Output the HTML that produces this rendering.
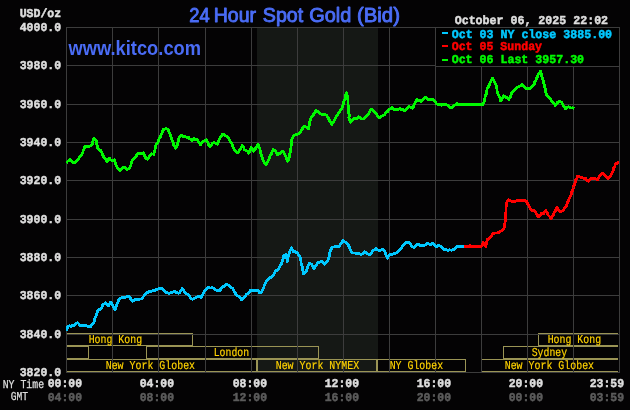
<!DOCTYPE html>
<html><head><meta charset="utf-8"><title>24 Hour Spot Gold (Bid)</title>
<style>html,body{margin:0;padding:0;background:#040304;}svg{display:block;will-change:transform;}.m{font-family:"Liberation Mono",monospace;font-weight:bold;font-size:12.1px;text-rendering:geometricPrecision;}.s{font-family:"Liberation Mono",monospace;font-size:12.1px;text-rendering:geometricPrecision;}.t{font-family:"Liberation Sans",sans-serif;font-weight:bold;}</style></head><body>
<svg width="630" height="410" viewBox="0 0 630 410">
<rect x="0" y="0" width="630" height="410" fill="#040304"/>
<rect x="257" y="27" width="121" height="345" fill="#151815"/>
<g stroke="#9a9455" stroke-width="1" shape-rendering="crispEdges" fill="none">
<path d="M67,333.5 H192.5 V345.5 H67"/>
<path d="M618,333.5 H538.5 V345.5 H618"/>
<path d="M67,346.5 H88.5 V358.5 H67"/>
<rect x="146.5" y="346.5" width="172" height="12"/>
<path d="M618,346.5 H503.5 V358.5 H618"/>
<path d="M67,359.5 H256.5 V371.5 H67"/>
<rect x="257.5" y="359.5" width="119" height="12"/>
<rect x="377.5" y="359.5" width="88" height="12"/>
<path d="M618,359.5 H481.5 V371.5 H618"/>
</g>
<g stroke="#3c3c3c" stroke-width="1" shape-rendering="crispEdges">
<line x1="66.5" y1="27" x2="66.5" y2="373"/>
<line x1="112.5" y1="27" x2="112.5" y2="373"/>
<line x1="158.5" y1="27" x2="158.5" y2="373"/>
<line x1="205.5" y1="27" x2="205.5" y2="373"/>
<line x1="251.5" y1="27" x2="251.5" y2="373"/>
<line x1="297.5" y1="27" x2="297.5" y2="373"/>
<line x1="343.5" y1="27" x2="343.5" y2="373"/>
<line x1="389.5" y1="27" x2="389.5" y2="373"/>
<line x1="435.5" y1="27" x2="435.5" y2="373"/>
<line x1="481.5" y1="27" x2="481.5" y2="373"/>
<line x1="527.5" y1="27" x2="527.5" y2="373"/>
<line x1="573.5" y1="27" x2="573.5" y2="373"/>
<line x1="619.5" y1="27" x2="619.5" y2="373"/>
<line x1="66" y1="27.5" x2="620" y2="27.5"/>
<line x1="66" y1="65.5" x2="620" y2="65.5"/>
<line x1="66" y1="104.5" x2="620" y2="104.5"/>
<line x1="66" y1="142.5" x2="620" y2="142.5"/>
<line x1="66" y1="180.5" x2="620" y2="180.5"/>
<line x1="66" y1="219.5" x2="620" y2="219.5"/>
<line x1="66" y1="257.5" x2="620" y2="257.5"/>
<line x1="66" y1="295.5" x2="620" y2="295.5"/>
<line x1="66" y1="334.5" x2="620" y2="334.5"/>
<line x1="66" y1="372.5" x2="620" y2="372.5"/>
</g>
<rect x="435.5" y="27.5" width="184" height="39" fill="#000000" stroke="#3c3c3c" stroke-width="1" shape-rendering="crispEdges"/>
<clipPath id="pc"><rect x="66" y="27" width="554" height="346"/></clipPath>
<g clip-path="url(#pc)">
<polyline points="66.7,330.6 67.2,328.6 67.9,326.6 69.5,325.9 71.1,326.2 72.7,325.3 74.3,325.5 75.4,324.6 76.4,323.4 77.5,322.6 78.7,323.7 79.8,325.8 81.8,325.7 83.8,325.5 85.4,325.4 87.0,326.2 88.6,326.2 90.2,327.1 91.2,325.3 92.2,324.4 93.1,323.5 94.1,321.8 94.3,320.2 94.9,318.6 95.6,317.1 96.3,315.5 96.5,313.9 97.4,312.0 98.1,310.2 99.5,309.5 101.0,309.1 102.0,307.5 102.2,306.0 103.2,304.4 104.5,304.0 105.7,302.8 107.1,304.2 108.4,306.0 109.0,304.7 109.7,303.3 110.8,302.0 111.5,303.6 112.6,305.1 113.2,306.7 114.2,307.8 115.1,309.6 115.7,308.1 116.2,306.6 116.5,305.1 117.1,303.6 118.1,301.9 118.7,300.2 120.0,298.5 121.4,297.6 122.9,297.3 124.3,297.2 125.9,297.1 127.4,296.6 129.0,296.4 130.1,297.8 131.1,299.7 132.2,301.2 133.8,300.4 135.4,299.6 137.0,299.1 138.6,299.3 140.1,299.1 141.7,298.8 142.7,297.3 143.6,296.4 144.6,295.0 145.5,294.2 146.5,292.5 148.1,292.3 149.7,291.3 151.3,291.6 152.9,290.6 155.0,290.5 156.6,289.3 158.2,288.9 160.1,288.7 162.1,288.6 163.4,290.2 164.8,290.8 166.1,292.5 167.7,292.9 169.3,293.3 171.1,292.2 173.0,292.2 174.8,291.4 176.1,292.3 177.5,292.7 178.8,293.3 180.0,292.1 181.1,290.0 182.3,288.6 183.3,290.1 184.2,291.3 185.2,292.5 186.5,293.7 187.8,294.6 189.1,295.7 190.3,297.3 191.4,298.7 192.6,299.4 194.1,298.5 195.6,297.8 197.1,296.8 199.1,296.6 201.0,297.3 201.9,295.9 202.7,294.5 203.7,293.1 204.2,291.7 205.3,290.8 206.3,288.9 207.4,287.8 209.0,287.7 210.5,288.0 212.1,287.8 213.4,288.1 214.8,289.4 216.1,290.2 217.9,290.2 219.8,291.0 220.7,289.1 221.6,287.6 222.5,286.7 224.1,286.3 225.6,284.9 227.2,284.6 228.6,285.2 230.0,286.3 231.4,287.8 232.8,288.3 233.3,289.9 234.4,291.5 235.2,293.0 236.0,294.6 237.6,295.8 239.1,296.2 240.1,297.8 241.0,299.1 242.0,300.0 243.2,298.3 244.3,297.0 245.5,295.7 246.7,294.2 247.8,293.5 249.0,292.3 250.2,290.5 251.7,290.3 253.3,290.5 254.8,291.0 257.1,289.9 258.3,291.0 259.5,292.6 261.9,292.0 262.4,290.3 263.2,288.6 263.9,287.0 264.3,285.3 265.1,283.6 266.1,281.7 267.1,280.9 268.0,279.5 269.0,278.3 270.3,277.5 271.7,277.1 273.0,275.7 273.9,274.1 274.6,272.5 275.4,270.9 277.8,270.1 278.7,268.7 279.5,267.3 279.9,265.9 281.0,264.5 281.8,262.8 282.3,261.0 282.9,259.3 283.4,257.5 283.7,255.8 284.9,254.9 286.2,254.2 286.4,256.0 286.5,257.8 287.1,259.6 287.3,261.4 287.4,259.6 287.8,257.8 288.3,256.0 288.9,254.2 289.4,252.6 290.1,251.1 290.6,249.5 291.6,247.9 292.0,249.2 292.8,250.5 293.7,251.8 295.2,251.8 296.8,252.6 297.9,253.9 298.9,255.1 300.0,257.1 300.7,258.9 300.9,260.7 301.0,262.5 301.5,264.3 302.1,266.1 302.3,267.7 302.7,269.3 302.8,270.9 303.6,272.5 303.7,274.1 305.0,273.0 306.3,270.9 306.9,269.3 307.6,267.7 307.9,266.2 308.6,264.6 309.5,263.0 310.6,263.6 311.6,264.5 312.5,265.7 313.4,267.7 314.3,268.8 314.9,267.4 315.6,265.9 317.0,264.4 317.5,263.0 319.4,262.2 321.4,261.4 323.0,262.4 324.6,264.1 325.8,262.9 326.9,261.0 328.1,260.3 328.5,258.8 329.1,257.2 329.4,255.7 329.6,254.1 329.7,252.6 330.2,251.0 330.9,249.7 331.5,248.4 332.5,247.1 334.5,246.8 336.5,246.0 337.7,246.6 338.9,247.1 339.9,245.7 340.4,244.4 341.1,243.0 342.3,241.7 342.9,240.3 344.2,241.7 345.6,242.4 346.9,242.8 347.8,244.2 348.6,245.6 349.2,246.9 349.8,248.3 350.4,249.8 351.3,251.3 352.1,252.8 353.7,253.0 355.3,253.0 356.9,253.9 358.5,253.5 360.1,254.0 361.7,254.4 363.2,252.8 364.8,251.8 366.4,253.0 368.0,254.2 369.6,254.7 370.7,253.3 371.7,252.5 372.8,250.7 374.4,249.9 376.0,248.0 377.6,249.9 379.1,250.7 381.1,250.0 383.1,249.6 384.3,251.0 385.5,253.1 386.0,254.8 386.6,256.5 387.5,258.2 388.4,256.6 389.3,255.8 390.2,254.4 391.8,254.6 393.4,253.9 394.7,253.7 396.1,252.8 397.4,252.3 398.7,251.0 400.0,249.8 401.3,248.0 402.3,246.2 403.3,245.6 404.3,244.6 405.3,242.8 407.3,242.9 409.3,242.3 410.5,244.2 411.3,246.0 412.6,246.7 414.0,247.5 415.1,246.1 416.1,245.8 417.2,244.4 418.8,244.6 420.4,245.5 422.0,245.5 424.4,245.2 425.9,244.8 427.5,243.3 429.1,243.9 430.7,244.8 432.6,243.3 434.1,244.7 435.5,246.4 437.1,246.3 438.7,245.2 440.0,245.9 441.3,247.3 442.7,247.9 444.0,249.5 445.9,249.6 447.9,250.6 449.8,249.8 451.6,250.3 453.5,249.5 454.8,248.8 456.2,247.0 457.5,246.3 459.1,246.7 460.6,246.8 462.2,246.5 463.8,246.3" fill="none" stroke="#00c8ff" stroke-width="2.8" stroke-linejoin="round" stroke-linecap="butt" shape-rendering="crispEdges"/>
<polyline points="463.8,246.3 465.6,246.1 467.4,246.4 469.1,245.9 470.9,245.8 472.7,246.8 474.5,246.5 476.3,246.3 478.0,246.8 479.8,246.2 481.6,246.3 482.6,244.4 483.2,242.4 484.1,244.1 485.1,244.7 486.0,246.3 486.2,244.5 486.7,242.8 487.0,241.0 487.6,239.2 488.8,238.5 490.0,237.6 491.1,236.0 492.1,234.9 493.2,233.7 495.1,232.9 497.1,232.9 498.4,232.7 499.8,231.5 501.1,231.0 502.6,229.5 504.0,228.1 504.3,226.5 504.8,224.9 504.8,223.3 505.1,221.7 505.5,220.1 505.4,218.5 505.5,216.9 505.6,215.4 505.4,213.8 505.9,212.2 506.0,210.6 506.0,209.0 506.0,207.4 506.6,205.9 506.4,204.3 506.7,202.7 507.6,201.2 508.6,199.8 510.3,200.7 512.1,201.3 513.8,201.9 515.4,201.2 517.0,200.8 518.6,200.7 520.1,200.6 521.7,200.7 523.3,200.3 524.9,200.4 526.5,201.4 527.3,202.9 527.9,204.4 528.9,205.9 529.6,207.4 530.7,208.8 531.3,210.3 533.0,210.6 534.8,210.9 535.8,212.5 536.8,214.2 537.7,215.9 538.7,216.9 539.8,215.5 540.8,214.4 541.9,212.9 543.5,213.7 544.7,212.2 545.9,210.6 546.7,212.2 547.6,213.7 548.3,215.3 549.3,216.3 550.4,217.5 551.4,218.5 552.2,216.9 553.3,215.3 553.8,213.7 554.7,212.0 555.6,210.4 556.5,208.8 557.0,207.1 557.6,208.5 558.6,209.9 559.4,211.3 561.0,211.4 562.5,210.6 563.7,209.6 565.0,207.5 566.2,206.6 566.5,205.2 567.3,203.7 567.7,202.2 568.4,200.8 568.8,199.3 569.7,197.9 570.4,196.5 571.0,195.0 571.6,193.6 571.7,192.1 572.5,190.7 573.1,189.1 573.5,187.5 573.6,185.9 574.6,184.4 575.1,182.8 575.2,181.2 575.7,179.6 576.9,178.0 577.3,176.4 579.0,176.8 580.8,177.5 582.4,177.8 584.0,178.7 585.6,178.5 587.0,180.2 588.4,181.2 589.6,179.8 590.7,179.0 591.9,178.0 593.8,178.6 595.6,178.9 597.5,179.6 598.5,177.8 599.5,176.5 600.4,175.4 601.4,173.7 602.8,173.7 604.3,174.8 605.5,176.2 606.6,177.4 607.8,178.8 608.9,177.1 609.9,176.3 611.0,175.3 611.8,173.6 612.5,171.8 613.3,170.1 613.5,168.5 614.7,166.9 615.1,165.3 615.4,163.7 616.8,163.4 618.1,162.1 618.9,162.1" fill="none" stroke="#ff0000" stroke-width="2.8" stroke-linejoin="round" stroke-linecap="butt" shape-rendering="crispEdges"/>
<polyline points="66.3,163.1 67.5,161.5 68.7,160.4 69.9,159.5 71.3,160.3 72.7,162.2 74.1,162.7 75.5,162.5 76.7,160.8 77.8,159.3 79.0,158.3 80.0,156.7 81.0,155.8 81.9,154.2 82.9,152.3 83.2,150.9 83.6,149.4 84.6,148.0 84.8,146.6 86.3,146.8 87.9,146.8 89.5,146.3 91.1,145.3 92.4,144.0 92.7,142.1 93.2,140.2 94.0,138.3 95.1,139.8 96.2,140.9 96.5,142.4 96.5,143.9 97.4,145.5 97.5,147.0 97.7,148.5 99.2,149.8 100.6,150.4 101.0,151.8 102.1,153.2 102.2,154.6 103.4,156.0 103.8,157.4 104.9,158.6 105.9,159.8 107.0,161.2 108.2,159.8 109.5,158.3 110.8,159.9 112.1,160.6 114.3,159.9 114.7,161.4 115.2,162.9 116.0,164.5 116.4,166.0 117.1,167.5 118.4,168.6 119.7,170.5 121.2,169.1 122.6,167.9 124.1,167.3 125.7,168.0 127.3,169.4 128.6,168.6 129.8,168.2 130.2,166.5 131.0,164.9 131.2,163.2 131.9,161.6 132.4,159.9 133.7,158.3 134.9,157.2 136.2,156.1 135.0,157.5 136.1,155.7 137.1,154.7 138.2,153.7 139.9,152.9 141.6,153.4 143.3,152.8 144.0,154.2 144.3,155.5 145.2,156.8 145.8,158.2 147.7,159.2 148.6,158.3 149.6,156.0 150.6,155.4 151.5,153.7 153.8,154.4 154.1,152.8 154.5,151.2 155.1,149.6 155.2,148.0 155.6,146.4 156.0,144.8 157.0,143.3 158.0,141.9 158.5,140.4 159.2,138.7 160.4,137.0 161.0,135.3 161.8,133.8 162.4,132.2 162.9,130.7 163.6,129.2 165.1,129.0 166.5,128.7 168.0,129.2 168.4,130.8 169.0,132.4 170.1,134.0 170.4,135.6 171.2,137.2 171.5,138.7 171.9,140.2 172.9,141.8 173.4,143.3 173.7,144.8 174.8,146.6 175.6,148.3 176.4,146.6 177.5,144.8 177.7,143.3 178.1,141.8 178.6,140.2 178.8,138.7 179.4,137.2 180.4,136.1 181.3,135.1 183.3,136.6 185.0,136.5 186.6,137.5 188.3,137.2 189.6,138.8 190.8,139.4 192.1,140.4 193.1,139.2 194.0,138.5 195.6,139.7 197.2,139.8 198.3,141.3 199.3,143.0 200.4,144.8 201.7,142.7 202.9,141.7 204.8,140.6 206.7,139.8 207.3,141.4 208.0,142.9 208.5,144.5 209.3,146.1 211.2,145.2 210.0,146.7 211.3,145.3 212.5,143.4 213.8,142.6 215.7,143.1 217.6,144.1 218.0,142.5 218.8,140.9 219.2,139.4 220.2,137.8 221.0,136.1 221.9,135.2 222.7,134.2 224.4,134.9 226.1,136.2 227.8,137.1 228.6,138.4 229.4,139.9 230.2,141.1 231.0,142.2 231.8,143.6 232.5,145.0 232.8,146.4 233.4,147.8 234.1,149.2 235.2,150.9 236.2,151.2 237.3,152.8 238.6,151.5 239.8,149.8 240.8,148.3 241.2,146.9 242.4,145.4 243.3,146.8 243.9,148.1 244.3,149.5 245.9,150.4 247.5,151.1 248.7,153.3 249.5,151.8 250.2,150.3 250.4,148.8 251.3,147.3 252.1,148.6 253.0,149.8 253.8,151.1 254.9,149.7 255.7,148.2 256.5,146.8 257.2,145.3 258.0,143.9 258.8,145.6 259.2,147.2 259.8,148.8 260.2,150.5 260.5,152.2 260.9,153.9 261.5,155.6 262.2,157.2 262.5,158.9 263.3,160.6 264.2,162.3 265.0,163.4 265.9,164.7 266.7,163.3 267.5,161.8 268.3,160.4 268.9,158.9 269.7,157.5 270.1,155.9 271.3,154.3 271.9,152.7 272.4,151.1 273.1,149.5 274.2,150.3 275.4,151.1 276.5,153.0 277.3,154.9 278.6,153.5 279.9,153.3 281.1,151.8 282.4,151.1 283.6,152.2 284.9,154.3 285.4,156.1 286.5,157.8 286.8,159.6 287.7,161.3 288.4,159.8 289.1,158.3 289.4,156.8 289.7,155.1 289.9,153.4 290.3,151.8 290.6,150.1 290.9,148.4 291.1,146.7 291.2,144.9 291.4,143.2 291.2,141.5 291.7,139.8 292.4,138.2 293.4,136.6 294.5,135.0 296.9,134.5 298.5,133.7 300.1,132.3 301.1,130.6 302.1,129.4 303.0,127.3 304.0,126.3 305.5,126.6 307.0,127.6 308.5,128.7 308.9,127.1 309.3,125.5 309.6,123.9 309.6,122.3 310.1,120.7 310.4,119.1 311.5,117.5 312.5,115.9 313.6,114.4 314.1,113.1 315.5,111.7 316.0,110.4 317.6,111.3 319.1,112.8 320.7,114.1 322.3,114.4 323.7,115.1 325.2,114.4 326.6,115.2 327.3,116.6 328.2,118.0 329.0,119.3 329.4,120.7 330.2,122.0 331.0,123.1 331.8,124.7 332.4,123.3 333.7,121.9 334.0,120.5 335.0,119.1 335.9,117.7 336.4,116.3 337.4,115.0 338.2,113.6 339.2,112.8 340.3,110.5 341.3,109.6 342.0,108.0 342.4,106.4 343.2,104.8 343.6,103.3 343.8,101.7 344.5,100.1 345.3,98.3 345.5,96.5 345.8,94.7 346.6,92.9 346.8,94.9 347.7,96.9 347.8,98.6 347.9,100.3 347.9,102.0 347.9,103.7 348.2,105.4 348.3,107.1 348.5,108.8 348.9,110.5 348.4,112.2 349.1,113.9 349.3,115.7 348.9,117.4 349.3,119.1 350.1,120.7 350.4,122.3 351.4,121.3 352.3,120.3 353.3,118.7 354.9,118.7 356.4,119.1 357.6,117.8 358.8,116.7 360.0,117.6 361.2,118.7 362.8,119.0 364.4,118.3 365.4,117.4 366.5,116.1 367.5,115.2 368.5,113.6 369.5,111.9 370.5,110.1 371.5,109.1 372.8,109.9 374.2,111.9 375.5,112.8 376.5,113.9 377.4,115.9 378.4,116.4 379.4,118.0 380.0,117.6 381.6,116.3 383.2,115.5 384.8,114.4 385.8,112.9 386.8,111.9 387.7,111.4 388.7,109.7 390.3,108.9 391.9,107.3 393.2,109.0 394.6,110.0 396.3,109.6 398.1,109.4 399.8,108.4 401.2,109.4 402.6,109.5 404.0,110.2 405.4,110.5 406.6,108.7 407.8,108.1 409.0,106.5 410.8,107.2 412.5,108.1 413.5,106.5 414.2,104.9 414.9,103.3 415.7,101.8 416.5,100.2 417.3,99.4 418.5,100.6 419.8,100.5 421.0,101.7 422.2,100.6 423.4,99.3 424.5,98.2 425.7,97.3 426.9,98.4 428.0,99.5 429.2,99.8 431.2,99.3 433.2,99.4 434.2,101.0 435.3,102.0 436.3,103.7 437.9,104.3 439.5,104.6 441.1,105.2 443.1,104.3 445.1,104.1 446.6,104.7 448.1,105.8 449.5,107.5 451.0,108.1 452.4,107.1 453.8,106.2 454.9,104.9 455.9,104.7 457.0,103.3 458.2,104.4 459.4,104.4 461.1,104.4 462.8,104.0 464.4,104.1 466.1,104.0 467.8,104.3 469.5,104.0 471.1,104.2 472.8,104.2 474.5,104.5 476.2,104.9 477.9,104.8 479.5,104.4 481.2,104.4 482.9,104.5 483.5,103.1 484.0,101.6 484.6,100.2 484.9,98.6 485.1,96.9 485.6,95.3 486.4,93.7 486.2,92.1 486.8,90.4 487.2,88.8 488.2,87.1 489.2,85.3 489.8,83.6 490.5,81.8 491.4,80.1 492.5,78.3 493.2,79.8 494.2,81.2 495.1,82.7 495.5,84.3 496.3,85.9 496.6,87.5 497.1,89.1 497.0,90.7 497.7,92.3 498.0,94.0 499.1,95.8 499.8,97.5 500.2,99.3 500.8,101.0 501.6,99.7 502.0,98.4 503.0,97.1 503.8,95.8 505.6,97.1 507.3,97.5 509.0,99.3 509.9,97.8 510.6,96.2 511.3,94.7 511.7,93.2 513.0,91.6 514.3,90.1 515.6,88.8 516.9,87.9 518.1,87.0 519.3,86.4 520.6,85.8 521.8,84.4 522.8,85.7 523.8,86.7 524.8,87.6 526.2,88.3 527.7,88.4 529.1,88.8 530.6,87.7 532.0,86.0 533.5,85.3 534.4,83.7 534.7,82.2 535.9,80.6 536.4,79.1 537.0,77.5 537.7,75.9 538.5,74.3 539.5,72.8 540.5,71.2 541.1,73.0 541.7,74.8 541.8,76.5 542.3,78.3 543.1,80.1 543.5,81.7 543.9,83.4 544.2,85.0 544.5,86.7 545.1,88.3 545.1,90.0 545.7,91.6 546.2,93.3 546.6,94.9 547.8,96.6 548.9,97.4 550.1,98.4 551.1,100.3 552.2,101.3 553.2,102.5 554.3,104.0 555.3,105.7 556.2,104.9 557.0,103.4 557.9,101.9 559.2,101.5 560.6,101.6 561.6,102.5 562.7,104.5 563.7,106.2 564.8,107.4 565.8,108.9 567.1,107.6 568.4,106.8 569.9,107.4 571.5,108.1 573.0,107.8 574.5,108.5" fill="none" stroke="#00f800" stroke-width="2.8" stroke-linejoin="round" stroke-linecap="butt" shape-rendering="crispEdges"/>
<rect x="459" y="103" width="24" height="3" fill="#00f800"/>
<rect x="464" y="245" width="18" height="3" fill="#ff0000"/><rect x="457" y="245" width="7" height="3" fill="#00c8ff"/>
</g>
<text class="m" x="19.7" y="31" textLength="41.4" lengthAdjust="spacingAndGlyphs" fill="#dedede" stroke="#dedede" stroke-width="0.5">4000.0</text>
<text class="m" x="19.7" y="69" textLength="41.4" lengthAdjust="spacingAndGlyphs" fill="#dedede" stroke="#dedede" stroke-width="0.5">3980.0</text>
<text class="m" x="19.7" y="108" textLength="41.4" lengthAdjust="spacingAndGlyphs" fill="#dedede" stroke="#dedede" stroke-width="0.5">3960.0</text>
<text class="m" x="19.7" y="146" textLength="41.4" lengthAdjust="spacingAndGlyphs" fill="#dedede" stroke="#dedede" stroke-width="0.5">3940.0</text>
<text class="m" x="19.7" y="184" textLength="41.4" lengthAdjust="spacingAndGlyphs" fill="#dedede" stroke="#dedede" stroke-width="0.5">3920.0</text>
<text class="m" x="19.7" y="223" textLength="41.4" lengthAdjust="spacingAndGlyphs" fill="#dedede" stroke="#dedede" stroke-width="0.5">3900.0</text>
<text class="m" x="19.7" y="261" textLength="41.4" lengthAdjust="spacingAndGlyphs" fill="#dedede" stroke="#dedede" stroke-width="0.5">3880.0</text>
<text class="m" x="19.7" y="299" textLength="41.4" lengthAdjust="spacingAndGlyphs" fill="#dedede" stroke="#dedede" stroke-width="0.5">3860.0</text>
<text class="m" x="19.7" y="338" textLength="41.4" lengthAdjust="spacingAndGlyphs" fill="#dedede" stroke="#dedede" stroke-width="0.5">3840.0</text>
<text class="m" x="19.7" y="376" textLength="41.4" lengthAdjust="spacingAndGlyphs" fill="#dedede" stroke="#dedede" stroke-width="0.5">3820.0</text>
<text class="m" x="19.7" y="17" textLength="41.4" lengthAdjust="spacingAndGlyphs" fill="#dedede" stroke="#dedede" stroke-width="0.5">USD/oz</text>
<text class="m" x="47.7" y="387" textLength="34.4" lengthAdjust="spacingAndGlyphs" fill="#dedede" stroke="#dedede" stroke-width="0.5">00:00</text>
<text class="m" x="47.7" y="401" textLength="34.4" lengthAdjust="spacingAndGlyphs" fill="#5c5c5c" stroke="#5c5c5c" stroke-width="0.5">04:00</text>
<text class="m" x="139.7" y="387" textLength="34.4" lengthAdjust="spacingAndGlyphs" fill="#dedede" stroke="#dedede" stroke-width="0.5">04:00</text>
<text class="m" x="139.7" y="401" textLength="34.4" lengthAdjust="spacingAndGlyphs" fill="#5c5c5c" stroke="#5c5c5c" stroke-width="0.5">08:00</text>
<text class="m" x="232.7" y="387" textLength="34.4" lengthAdjust="spacingAndGlyphs" fill="#dedede" stroke="#dedede" stroke-width="0.5">08:00</text>
<text class="m" x="232.7" y="401" textLength="34.4" lengthAdjust="spacingAndGlyphs" fill="#5c5c5c" stroke="#5c5c5c" stroke-width="0.5">12:00</text>
<text class="m" x="324.7" y="387" textLength="34.4" lengthAdjust="spacingAndGlyphs" fill="#dedede" stroke="#dedede" stroke-width="0.5">12:00</text>
<text class="m" x="324.7" y="401" textLength="34.4" lengthAdjust="spacingAndGlyphs" fill="#5c5c5c" stroke="#5c5c5c" stroke-width="0.5">16:00</text>
<text class="m" x="416.7" y="387" textLength="34.4" lengthAdjust="spacingAndGlyphs" fill="#dedede" stroke="#dedede" stroke-width="0.5">16:00</text>
<text class="m" x="416.7" y="401" textLength="34.4" lengthAdjust="spacingAndGlyphs" fill="#5c5c5c" stroke="#5c5c5c" stroke-width="0.5">20:00</text>
<text class="m" x="508.7" y="387" textLength="34.4" lengthAdjust="spacingAndGlyphs" fill="#dedede" stroke="#dedede" stroke-width="0.5">20:00</text>
<text class="m" x="508.7" y="401" textLength="34.4" lengthAdjust="spacingAndGlyphs" fill="#5c5c5c" stroke="#5c5c5c" stroke-width="0.5">00:00</text>
<text class="m" x="589.7" y="387" textLength="34.4" lengthAdjust="spacingAndGlyphs" fill="#dedede" stroke="#dedede" stroke-width="0.5">23:59</text>
<text class="m" x="589.7" y="401" textLength="34.4" lengthAdjust="spacingAndGlyphs" fill="#5c5c5c" stroke="#5c5c5c" stroke-width="0.5">03:59</text>
<text class="s" x="2.7" y="388" textLength="41.4" lengthAdjust="spacingAndGlyphs" fill="#dedede" stroke="#dedede" stroke-width="0.3">NY Time</text>
<text class="s" x="10.7" y="400" textLength="17.4" lengthAdjust="spacingAndGlyphs" fill="#dedede" stroke="#dedede" stroke-width="0.3">GMT</text>
<text class="m" x="454.7" y="24" textLength="153.4" lengthAdjust="spacingAndGlyphs" fill="#dedede" stroke="#dedede" stroke-width="0.5">October 06, 2025 22:02</text>
<text class="m" x="451.7" y="38" textLength="160.4" lengthAdjust="spacingAndGlyphs" fill="#00c8ff" stroke="#00c8ff" stroke-width="0.5">Oct 03 NY close 3885.00</text>
<text class="m" x="451.7" y="50" textLength="90.4" lengthAdjust="spacingAndGlyphs" fill="#ff0000" stroke="#ff0000" stroke-width="0.5">Oct 05 Sunday</text>
<text class="m" x="451.7" y="63" textLength="132.4" lengthAdjust="spacingAndGlyphs" fill="#00f800" stroke="#00f800" stroke-width="0.5">Oct 06 Last 3957.30</text>
<rect x="442" y="32" width="6" height="2" fill="#00c8ff"/>
<rect x="442" y="45" width="6" height="2" fill="#ff0000"/>
<rect x="442" y="59" width="6" height="2" fill="#00f800"/>
<text class="s" x="88.7" y="343" textLength="53.4" lengthAdjust="spacingAndGlyphs" fill="#ffd200" stroke="#ffd200" stroke-width="0.2">Hong Kong</text>
<text class="s" x="213.7" y="356" textLength="35.4" lengthAdjust="spacingAndGlyphs" fill="#ffd200" stroke="#ffd200" stroke-width="0.2">London</text>
<text class="s" x="105.7" y="369" textLength="89.4" lengthAdjust="spacingAndGlyphs" fill="#ffd200" stroke="#ffd200" stroke-width="0.2">New York Globex</text>
<text class="s" x="275.7" y="369" textLength="83.4" lengthAdjust="spacingAndGlyphs" fill="#ffd200" stroke="#ffd200" stroke-width="0.2">New York NYMEX</text>
<text class="s" x="389.7" y="369" textLength="53.4" lengthAdjust="spacingAndGlyphs" fill="#ffd200" stroke="#ffd200" stroke-width="0.2">NY Globex</text>
<text class="s" x="547.7" y="343" textLength="53.4" lengthAdjust="spacingAndGlyphs" fill="#ffd200" stroke="#ffd200" stroke-width="0.2">Hong Kong</text>
<text class="s" x="531.7" y="356" textLength="35.4" lengthAdjust="spacingAndGlyphs" fill="#ffd200" stroke="#ffd200" stroke-width="0.2">Sydney</text>
<text class="s" x="504.7" y="369" textLength="89.4" lengthAdjust="spacingAndGlyphs" fill="#ffd200" stroke="#ffd200" stroke-width="0.2">New York Globex</text>
<text x="189.3" y="22.1" font-family="Liberation Sans" font-size="19.6" fill="#4a6cf5" stroke="#4a6cf5" stroke-width="0.9" stroke-linejoin="round" textLength="20.4" lengthAdjust="spacingAndGlyphs">24</text>
<text x="213.75" y="22.1" font-family="Liberation Sans" font-size="19.6" fill="#4a6cf5" stroke="#4a6cf5" stroke-width="0.9" stroke-linejoin="round" textLength="42.3" lengthAdjust="spacingAndGlyphs">Hour</text>
<text x="262.85" y="22.1" font-family="Liberation Sans" font-size="19.6" fill="#4a6cf5" stroke="#4a6cf5" stroke-width="0.9" stroke-linejoin="round" textLength="40.4" lengthAdjust="spacingAndGlyphs">Spot</text>
<text x="309.3" y="22.1" font-family="Liberation Sans" font-size="19.6" fill="#4a6cf5" stroke="#4a6cf5" stroke-width="0.9" stroke-linejoin="round" textLength="42.0" lengthAdjust="spacingAndGlyphs">Gold</text>
<text x="357.0" y="22.1" font-family="Liberation Sans" font-size="19.6" fill="#4a6cf5" stroke="#4a6cf5" stroke-width="0.9" stroke-linejoin="round" textLength="42.9" lengthAdjust="spacingAndGlyphs">(Bid)</text>
<text class="t" x="68.5" y="54.7" font-size="20" fill="#4a6cf5" textLength="132.5" lengthAdjust="spacingAndGlyphs">www.kitco.com</text>
</svg></body></html>
